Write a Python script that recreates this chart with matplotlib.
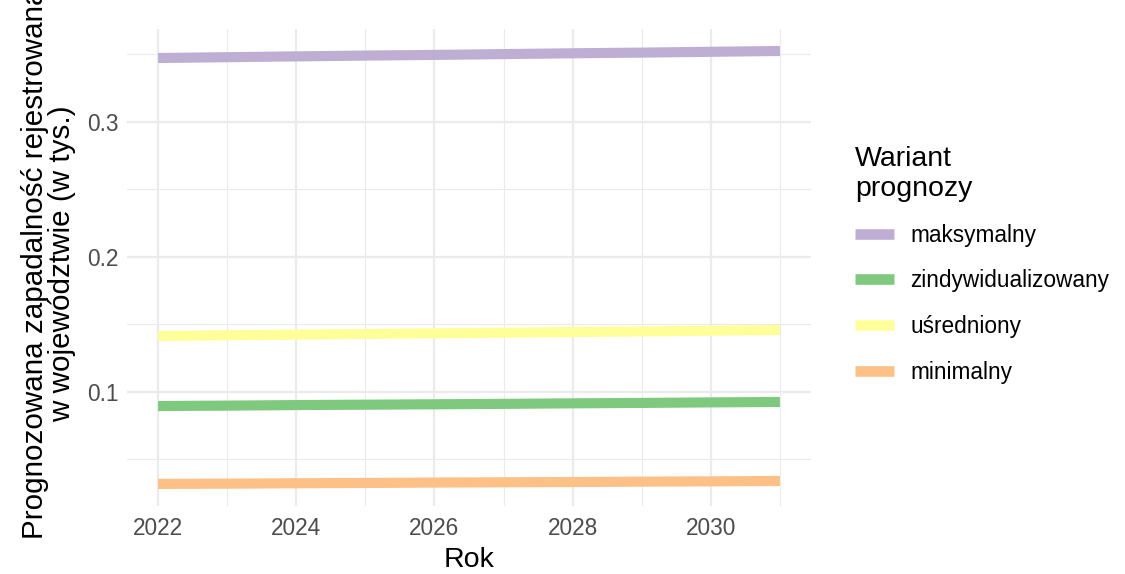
import matplotlib.pyplot as plt
from matplotlib.lines import Line2D
from matplotlib.ticker import MultipleLocator

plt.rcParams['font.family'] = ['Liberation Sans', 'DejaVu Sans']

# dane
lata = [2022, 2023, 2024, 2025, 2026, 2027, 2028, 2029, 2030, 2031]
maksymalny = [0.3474, 0.3480, 0.3486, 0.3492, 0.3497, 0.3503, 0.3509, 0.3514, 0.3520, 0.3526]
zindywidualizowany = [0.0896, 0.0899, 0.0903, 0.0906, 0.0909, 0.0912, 0.0916, 0.0919, 0.0923, 0.0926]
usredniony = [0.1415, 0.1420, 0.1425, 0.1430, 0.1435, 0.1439, 0.1444, 0.1449, 0.1454, 0.1459]
minimalny = [0.0319, 0.0321, 0.0324, 0.0326, 0.0329, 0.0331, 0.0333, 0.0336, 0.0338, 0.0341]

warianty = ['maksymalny', 'zindywidualizowany', 'uśredniony', 'minimalny']
kolory = ['#BEAED4', '#7FC97F', '#FFFF99', '#FDC086']
serie = [maksymalny, zindywidualizowany, usredniony, minimalny]

fig = plt.figure(figsize=(11.25, 5.74), dpi=100)
ax = fig.add_axes([0.1129, 0.1193, 0.6080, 0.8295])

for nazwa, kol, y in zip(warianty, kolory, serie):
    ax.plot(lata, y, color=kol, lw=7.3, solid_capstyle='butt', zorder=3)

ax.set_xlim(2021.55, 2031.45)
ax.set_ylim(0.0159, 0.3686)
ax.xaxis.set_major_locator(MultipleLocator(2))
ax.xaxis.set_minor_locator(MultipleLocator(1))
ax.yaxis.set_minor_locator(MultipleLocator(0.05))
ax.set_yticks([0.1, 0.2, 0.3])
ax.set_yticklabels(['0.1', '0.2', '0.3'])

ax.grid(which='major', color='#EBEBEB', lw=1.6, zorder=0)
ax.grid(which='minor', color='#EBEBEB', lw=0.8, zorder=0)
ax.set_axisbelow(True)
for s in ax.spines.values():
    s.set_visible(False)
ax.tick_params(axis='x', which='both', length=0, labelsize=16.3, labelcolor='#4D4D4D', pad=8)
ax.tick_params(axis='y', which='both', length=0, labelsize=16.3, labelcolor='#4D4D4D', pad=6)

ax.set_xlabel('Rok', fontsize=20.5, labelpad=5)
# etykieta osi Y (w oryginale ucięta u góry)
fig.text(0.043, 0.54, 'Prognozowana zapadalność rejestrowana\nw województwie (w tys.)',
         rotation=90, ha='center', va='center', multialignment='center',
         fontsize=21.3, linespacing=0.95)

uchwyty = [Line2D([0], [0], color=k, lw=7.6, solid_capstyle='butt') for k in kolory]
leg = fig.legend(uchwyty, warianty, title='Wariant\nprognozy', loc='upper left',
                 bbox_to_anchor=(0.742, 0.782), frameon=False, fontsize=16.3,
                 title_fontsize=20.5, handlelength=1.7, handletextpad=0.75,
                 labelspacing=1.0, alignment='left')
leg._legend_box.sep = 16

fig.savefig('out.png', dpi=100, facecolor='white')
